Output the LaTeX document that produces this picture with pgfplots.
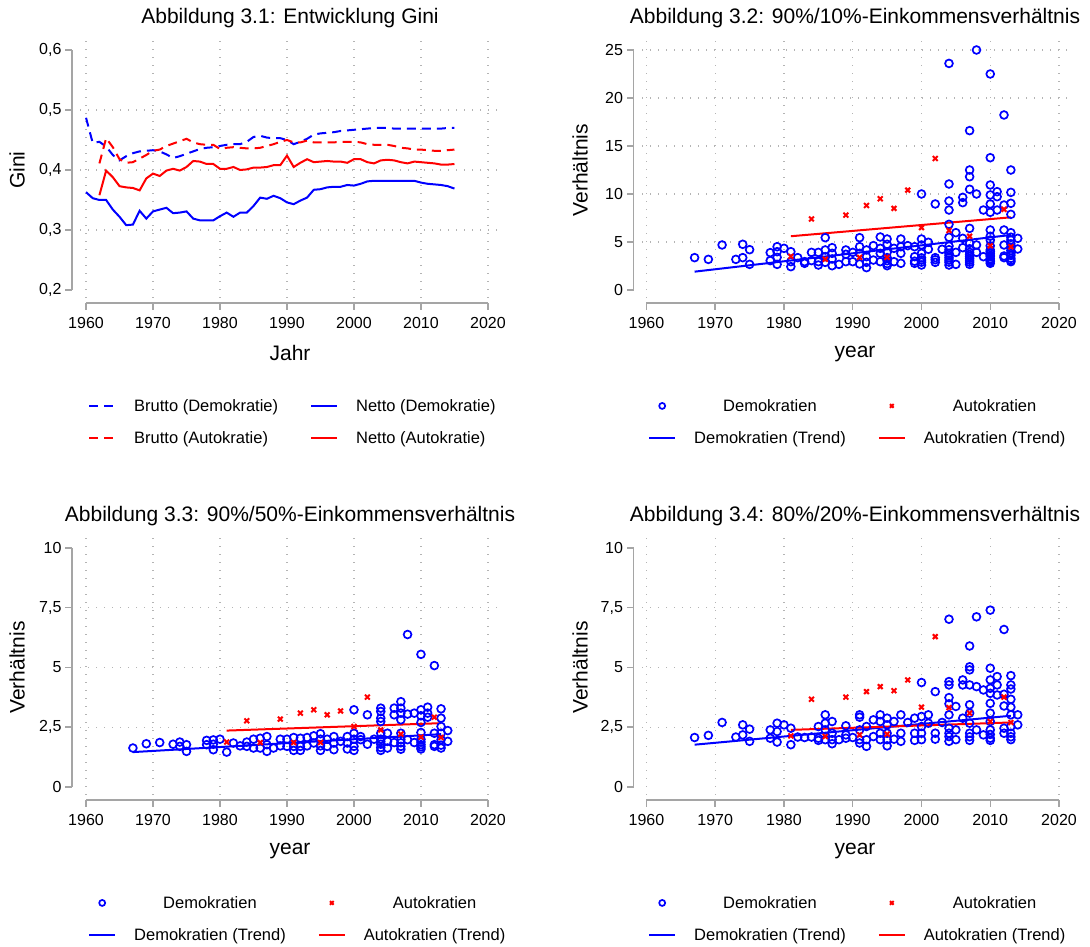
\documentclass[border=0pt]{standalone}
\usepackage{fontspec}
\setmainfont{Liberation Sans}
\usepackage{pgfplots}
\usepackage{pgfplotstable}
\pgfplotsset{compat=1.18}
\definecolor{grgray}{RGB}{180,180,180}
\definecolor{axgray}{RGB}{165,165,165}
\definecolor{sblue}{RGB}{0,0,255}
\definecolor{sred}{RGB}{255,0,0}
\newcommand\tickfont{\fontsize{16}{19}\selectfont}
\newcommand\titlefont{\fontsize{21}{25}\selectfont}
\newcommand\legfont{\fontsize{16.5}{20}\selectfont}

\pgfplotstableread{
year bd nd ba na
1960 0.487 0.363 nan nan
1961 0.445 0.353 nan nan
1962 0.447 0.350 0.411 0.358
1963 0.439 0.350 0.453 0.399
1964 0.425 0.334 0.438 0.388
1965 0.416 0.322 0.418 0.373
1966 0.423 0.308 0.412 0.371
1967 0.428 0.309 0.413 0.370
1968 0.431 0.332 0.419 0.366
1969 0.432 0.319 0.425 0.386
1970 0.433 0.331 0.432 0.394
1971 0.431 0.334 0.434 0.390
1972 0.426 0.337 0.440 0.399
1973 0.420 0.328 0.444 0.402
1974 0.423 0.329 0.448 0.399
1975 0.427 0.331 0.452 0.405
1976 0.431 0.319 0.446 0.415
1977 0.435 0.316 0.443 0.414
1978 0.437 0.316 0.442 0.410
1979 0.438 0.316 0.442 0.410
1980 0.440 0.323 0.435 0.402
1981 0.442 0.329 0.437 0.402
1982 0.443 0.322 0.438 0.405
1983 0.443 0.329 0.437 0.400
1984 0.447 0.329 0.436 0.401
1985 0.455 0.340 0.436 0.404
1986 0.457 0.354 0.437 0.404
1987 0.454 0.352 0.440 0.405
1988 0.453 0.357 0.443 0.408
1989 0.453 0.353 0.447 0.408
1990 0.450 0.346 0.450 0.424
1991 0.443 0.343 0.446 0.405
1992 0.447 0.349 0.446 0.412
1993 0.452 0.354 0.449 0.418
1994 0.459 0.367 0.446 0.413
1995 0.461 0.368 0.446 0.414
1996 0.462 0.371 0.446 0.415
1997 0.463 0.372 0.446 0.414
1998 0.465 0.372 0.447 0.414
1999 0.466 0.375 0.447 0.412
2000 0.467 0.374 0.447 0.418
2001 0.468 0.377 0.446 0.418
2002 0.469 0.381 0.443 0.413
2003 0.470 0.382 0.442 0.411
2004 0.470 0.382 0.442 0.416
2005 0.470 0.382 0.442 0.417
2006 0.469 0.382 0.440 0.416
2007 0.469 0.382 0.437 0.413
2008 0.469 0.382 0.436 0.411
2009 0.469 0.382 0.434 0.414
2010 0.469 0.379 0.434 0.413
2011 0.469 0.377 0.433 0.412
2012 0.469 0.376 0.432 0.411
2013 0.469 0.375 0.432 0.409
2014 0.470 0.373 0.433 0.409
2015 0.470 0.369 0.434 0.410
}\ginitab

\pgfplotstableread{
year v
1967 3.37
1969 3.19
1971 4.69
1973 3.19
1974 4.76
1974 3.37
1975 4.2
1975 2.67
1978 3.89
1978 3.06
1979 4.51
1979 3.99
1979 3.4
1979 2.67
1980 4.34
1981 3.99
1981 2.95
1981 2.43
1982 3.37
1983 2.95
1983 2.78
1984 3.92
1984 3.06
1985 3.92
1985 2.95
1985 2.6
1986 5.45
1986 4.17
1986 3.47
1986 2.88
1987 4.41
1987 3.82
1987 3.23
1987 2.53
1988 2.67
1989 4.17
1989 3.72
1989 2.95
1990 3.92
1990 2.95
1991 5.45
1991 4.51
1991 3.82
1991 2.71
1992 4.17
1992 3.47
1992 2.88
1992 2.33
1993 4.62
1993 3.12
1994 5.52
1994 4.34
1994 3.82
1994 2.95
1995 5.31
1995 4.76
1995 3.92
1995 3.37
1995 2.53
1995 2.75
1995 3.05
1996 4.34
1996 2.95
1997 5.31
1997 4.51
1997 3.82
1997 2.78
1998 4.62
1999 4.51
1999 3.47
1999 2.78
1999 3.0
2000 10.0
2000 5.31
2000 4.69
2000 3.82
2000 3.12
2000 2.6
2000 2.9
2000 3.35
2001 4.97
2001 4.24
2002 8.96
2002 3.37
2002 2.88
2002 3.15
2003 4.24
2004 23.6
2004 11.04
2004 9.27
2004 8.33
2004 6.84
2004 5.49
2004 4.58
2004 3.82
2004 3.12
2004 2.6
2004 2.9
2004 3.35
2004 3.6
2004 4.2
2005 5.97
2005 3.92
2005 2.67
2006 9.65
2006 9.1
2006 5.38
2006 4.41
2007 16.6
2007 12.5
2007 11.8
2007 10.49
2007 6.42
2007 4.86
2007 3.92
2007 3.3
2007 2.67
2007 2.9
2007 3.1
2007 3.5
2007 3.7
2007 4.3
2008 25.0
2008 10.0
2008 4.69
2008 3.92
2009 8.33
2009 3.47
2010 22.5
2010 13.78
2010 10.94
2010 9.9
2010 8.96
2010 8.09
2010 6.25
2010 5.21
2010 4.17
2010 3.47
2010 2.78
2010 2.95
2010 3.1
2010 3.25
2010 3.6
2010 3.8
2010 4.0
2010 4.6
2010 5.6
2011 10.24
2011 9.72
2011 8.33
2012 18.23
2012 8.85
2012 6.25
2012 4.69
2012 3.54
2012 3.37
2013 12.5
2013 10.17
2013 9.03
2013 7.88
2013 5.97
2013 5.21
2013 4.1
2013 2.95
2013 3.1
2013 3.3
2013 3.6
2013 3.8
2013 4.4
2013 4.8
2013 5.5
2014 5.38
2014 4.27
}\tabDemA

\pgfplotstableread{
year v
1981 3.5
1984 7.4
1986 3.2
1989 7.8
1991 3.4
1992 8.8
1994 9.5
1995 3.4
1996 8.5
1998 10.4
2000 6.5
2002 13.7
2004 6.2
2007 5.6
2010 4.6
2012 8.4
2013 4.5
}\tabAutA

\pgfplotstableread{
year v
1967 1.63
1969 1.81
1971 1.86
1973 1.79
1974 1.88
1974 1.7
1975 1.77
1975 1.49
1978 1.95
1978 1.77
1979 1.97
1979 1.79
1979 1.56
1980 2.0
1981 1.46
1982 1.84
1983 1.72
1984 1.88
1984 1.7
1985 2.0
1985 1.63
1986 2.04
1986 1.63
1987 2.11
1987 1.77
1987 1.49
1988 1.63
1989 2.0
1989 1.72
1990 2.0
1990 1.7
1991 2.07
1991 1.7
1991 1.53
1992 2.04
1992 1.7
1992 1.53
1993 2.07
1993 1.72
1994 2.14
1994 1.84
1995 2.23
1995 2.0
1995 1.72
1995 1.53
1996 2.0
1996 1.7
1997 2.11
1997 1.84
1997 1.56
1998 1.91
1999 2.11
1999 1.84
1999 1.59
2000 3.23
2000 2.25
2000 2.0
2000 1.7
2000 1.53
2001 2.11
2001 1.98
2002 3.02
2002 1.79
2003 2.0
2004 3.3
2004 3.16
2004 2.88
2004 2.74
2004 2.25
2004 2.0
2004 1.79
2004 1.53
2004 1.65
2004 1.9
2005 2.25
2005 1.91
2005 1.63
2006 3.3
2006 3.02
2006 1.86
2007 3.57
2007 3.3
2007 3.09
2007 2.81
2007 2.25
2007 1.98
2007 1.7
2007 1.58
2007 1.85
2008 6.38
2008 3.05
2008 1.98
2009 3.09
2009 1.86
2010 5.55
2010 3.23
2010 2.98
2010 2.7
2010 2.28
2010 2.0
2010 1.77
2010 1.59
2010 1.68
2010 1.88
2011 3.34
2011 3.09
2011 2.92
2012 5.08
2012 2.25
2012 1.77
2012 1.7
2013 3.27
2013 2.88
2013 2.53
2013 2.25
2013 1.98
2013 1.63
2013 1.75
2014 2.36
2014 1.91
}\tabDemB

\pgfplotstableread{
year v
1981 1.88
1984 2.77
1986 1.86
1989 2.84
1991 1.86
1992 3.09
1994 3.23
1995 1.86
1996 3.02
1998 3.18
2000 2.53
2002 3.76
2004 2.39
2007 2.21
2010 2.09
2012 2.92
2013 2.07
}\tabAutB

\pgfplotstableread{
year v
1967 2.07
1969 2.16
1971 2.7
1973 2.09
1974 2.6
1974 2.18
1975 2.42
1975 1.91
1978 2.39
1978 2.04
1979 2.67
1979 2.32
1979 1.88
1980 2.6
1981 2.46
1981 1.77
1982 2.09
1983 2.07
1984 2.09
1985 2.53
1985 2.04
1985 1.95
1986 3.02
1986 2.67
1986 2.39
1986 1.98
1987 2.74
1987 2.25
1987 1.98
1987 1.81
1988 1.98
1989 2.56
1989 2.18
1989 2.04
1990 2.07
1991 3.02
1991 2.92
1991 2.39
1991 1.98
1991 1.84
1992 2.53
1992 1.98
1992 1.7
1993 2.81
1993 2.11
1994 3.02
1994 2.74
1994 2.25
1994 1.98
1995 2.88
1995 2.6
1995 2.25
1995 1.98
1995 1.72
1996 2.74
1996 2.0
1997 3.02
1997 2.25
1997 1.91
1998 2.7
1999 2.88
1999 2.25
1999 1.95
2000 4.37
2000 2.95
2000 2.53
2000 2.25
2000 1.98
2001 3.02
2001 2.67
2002 3.99
2002 2.25
2002 2.0
2003 2.7
2004 7.02
2004 4.41
2004 4.27
2004 3.74
2004 3.48
2004 3.02
2004 2.46
2004 2.11
2004 1.91
2004 2.25
2005 3.37
2005 2.39
2005 1.98
2006 4.48
2006 4.27
2006 2.88
2007 5.9
2007 5.03
2007 4.9
2007 4.27
2007 3.44
2007 3.09
2007 2.67
2007 2.25
2007 1.95
2007 2.1
2008 7.12
2008 4.2
2008 2.39
2009 4.06
2009 2.18
2010 7.4
2010 4.97
2010 4.48
2010 4.13
2010 3.92
2010 3.5
2010 3.09
2010 2.74
2010 2.39
2010 2.04
2010 2.2
2010 1.95
2011 4.62
2011 4.27
2011 3.85
2012 6.59
2012 3.88
2012 3.39
2012 2.46
2012 2.25
2013 4.66
2013 4.27
2013 4.1
2013 3.67
2013 3.34
2013 3.02
2013 2.53
2013 2.25
2013 1.98
2013 2.1
2014 3.02
2014 2.6
}\tabDemC

\pgfplotstableread{
year v
1981 2.14
1984 3.67
1986 2.11
1989 3.76
1991 2.18
1992 3.99
1994 4.2
1995 2.21
1996 4.03
1998 4.48
2000 3.34
2002 6.29
2004 3.32
2007 3.09
2010 2.74
2012 3.76
2013 2.7
}\tabAutC

\pgfplotsset{
 stata/.style={
   scale only axis,
   axis x line*=bottom, axis y line*=left,
   axis line style={draw=none},
   tick style={draw=none},
   tick align=outside,
   major tick length=7pt,
   minor tick num=0,
   axis x line shift=5pt,
   xtick={1960,1970,1980,1990,2000,2010,2020},
   xticklabels={1960,1970,1980,1990,2000,2010,2020},
   xmajorgrids,
   grid style={draw=grgray, line width=1.3pt, dash pattern=on 1.3pt off 6.7pt},
   ticklabel style={font=\tickfont, text=black},
   xticklabel style={yshift=-4pt},
   xlabel style={font=\titlefont, yshift=-10pt},
   ylabel style={font=\titlefont, anchor=center},
   title style={font=\titlefont, anchor=center, at={(axis description cs:0.5,1)}, yshift=12.5pt},
   clip=false,
   legend columns=2,
   legend style={draw=none, fill=none, font=\legfont, inner sep=0pt, row sep=15pt,
      at={(axis description cs:0,0)}, anchor=north west, yshift=-99pt,
      /tikz/every odd column/.append style={column sep=16pt},
      /tikz/every even column/.append style={column sep=30pt}},
   legend image code/.code={\draw[mark repeat=2,mark phase=2,##1] plot coordinates {(0pt,0pt) (13pt,0pt) (26pt,0pt)};},
 },
 leftp/.style={width=420pt, xmin=1959.1, xmax=2021.8, axis y line shift=8pt,
   ylabel style={at={(axis description cs:0,0.49)}, yshift=63pt},
   legend style={xshift=8pt}},
 rightp/.style={width=426pt, xmin=1959.35, xmax=2021.31, axis y line shift=8.5pt,
   ylabel style={at={(axis description cs:0,0.49)}, yshift=62pt},
   legend style={xshift=6pt}, legend cell align=center},
 dem/.style={only marks, mark=o, mark size=3.9pt, sblue, mark options={line width=1.7pt},
   legend image post style={mark size=3pt}},
 aut/.style={only marks, mark=x, mark size=3.4pt, sred, mark options={line width=2pt},
   legend image post style={mark size=2.6pt}},
 trb/.style={sblue, line width=2pt, no marks},
 trr/.style={sred, line width=2pt, no marks},
 axl/.style={axgray, line width=1.5pt, no marks, forget plot},
 axtx/.style={axgray, only marks, mark=|, mark size=3.5pt, mark options={line width=1.5pt}, forget plot},
 axty/.style={axgray, only marks, mark=-, mark size=3.5pt, mark options={line width=1.5pt}, forget plot},
 ratio/.style={ymin=-0.335, ymax=10.544, height=260pt,
   ytick={0,2.5,5,7.5,10}, yticklabels={0,{2,5},5,{7,5},10},
   extra y ticks={2.5,5,7.5}, extra y tick labels={},
   extra y tick style={ymajorgrids=true, major tick length=0pt},
   xlabel={year}, ylabel={Verhältnis}},
}

\begin{document}
\begin{tikzpicture}
\path[use as bounding box] (0,0) rectangle (1090pt,947pt);

% Panel 1
\begin{axis}[stata, leftp, at={(80pt,649pt)}, anchor=south west,
  height=261pt, ymin=0.18667, ymax=0.62167,
  ytick={0.2,0.3,0.4,0.5,0.6}, yticklabels={{0,2},{0,3},{0,4},{0,5},{0,6}},
  extra y ticks={0.3,0.4,0.5}, extra y tick labels={},
  extra y tick style={ymajorgrids=true, major tick length=0pt},
  title={Abbildung 3.1: Entwicklung Gini}, xlabel={Jahr}, ylabel={Gini},
  unbounded coords=jump, legend cell align=left]
\addplot[axl] coordinates {(1960,0.17834) (2020,0.17834)};
\addplot[axl] coordinates {(1957.906,0.2) (1957.906,0.6)};
\addplot[axtx] coordinates {(1960,0.17251) (1970,0.17251) (1980,0.17251) (1990,0.17251) (2000,0.17251) (2010,0.17251) (2020,0.17251)};
\addplot[axty] coordinates {(1957.383,0.2) (1957.383,0.3) (1957.383,0.4) (1957.383,0.5) (1957.383,0.6)};
\addplot[sblue, line width=2pt, dash pattern=on 9pt off 6pt] table[x=year,y=bd] {\ginitab};
\addlegendentry{Brutto (Demokratie)}
\addplot[sblue, line width=2pt] table[x=year,y=nd] {\ginitab};
\addlegendentry{Netto (Demokratie)}
\addplot[sred, line width=2pt, dash pattern=on 9pt off 6pt] table[x=year,y=ba] {\ginitab};
\addlegendentry{Brutto (Autokratie)}
\addplot[sred, line width=2pt] table[x=year,y=na] {\ginitab};
\addlegendentry{Netto (Autokratie)}
\end{axis}

% Panel 2
\begin{axis}[stata, rightp, at={(642pt,649pt)}, anchor=south west,
  height=261pt, ymin=-0.833, ymax=26.354,
  ytick={0,5,10,15,20,25}, yticklabels={0,5,10,15,20,25},
  extra y ticks={5,10,15,20,25}, extra y tick labels={},
  extra y tick style={ymajorgrids=true, major tick length=0pt},
  title={Abbildung 3.2: 90\%/10\%-Einkommensverhältnis}, xlabel={year}, ylabel={Verhältnis}]
\addplot[axl] coordinates {(1960,-1.3538) (2020,-1.3538)};
\addplot[axl] coordinates {(1958.114,0) (1958.114,25)};
\addplot[axtx] coordinates {(1960,-1.7184) (1970,-1.7184) (1980,-1.7184) (1990,-1.7184) (2000,-1.7184) (2010,-1.7184) (2020,-1.7184)};
\addplot[axty] coordinates {(1957.605,0) (1957.605,5) (1957.605,10) (1957.605,15) (1957.605,20) (1957.605,25)};
\addplot[dem] table[x=year,y=v] {\tabDemA};
\addlegendentry{Demokratien}
\addplot[aut] table[x=year,y=v] {\tabAutA};
\addlegendentry{Autokratien}
\addplot[trb] coordinates {(1967,1.91) (2013,5.73)};
\addlegendentry{Demokratien (Trend)}
\addplot[trr] coordinates {(1981,5.6) (2013,7.57)};
\addlegendentry{Autokratien (Trend)}
\end{axis}

% Panel 3
\begin{axis}[stata, leftp, ratio, at={(80pt,152pt)}, anchor=south west,
  title={Abbildung 3.3: 90\%/50\%-Einkommensverhältnis}, legend cell align=center]
\addplot[axl] coordinates {(1960,-0.5442) (2020,-0.5442)};
\addplot[axl] coordinates {(1957.906,0) (1957.906,10)};
\addplot[axtx] coordinates {(1960,-0.6907) (1970,-0.6907) (1980,-0.6907) (1990,-0.6907) (2000,-0.6907) (2010,-0.6907) (2020,-0.6907)};
\addplot[axty] coordinates {(1957.383,0) (1957.383,2.5) (1957.383,5) (1957.383,7.5) (1957.383,10)};
\addplot[dem] table[x=year,y=v] {\tabDemB};
\addlegendentry{Demokratien}
\addplot[aut] table[x=year,y=v] {\tabAutB};
\addlegendentry{Autokratien}
\addplot[trb] coordinates {(1967,1.46) (2013,2.21)};
\addlegendentry{Demokratien (Trend)}
\addplot[trr] coordinates {(1981,2.36) (2013,2.67)};
\addlegendentry{Autokratien (Trend)}
\end{axis}

% Panel 4
\begin{axis}[stata, rightp, ratio, at={(642pt,152pt)}, anchor=south west,
  title={Abbildung 3.4: 80\%/20\%-Einkommensverhältnis}]
\addplot[axl] coordinates {(1960,-0.5442) (2020,-0.5442)};
\addplot[axl] coordinates {(1958.114,0) (1958.114,10)};
\addplot[axtx] coordinates {(1960,-0.6907) (1970,-0.6907) (1980,-0.6907) (1990,-0.6907) (2000,-0.6907) (2010,-0.6907) (2020,-0.6907)};
\addplot[axty] coordinates {(1957.605,0) (1957.605,2.5) (1957.605,5) (1957.605,7.5) (1957.605,10)};
\addplot[dem] table[x=year,y=v] {\tabDemC};
\addlegendentry{Demokratien}
\addplot[aut] table[x=year,y=v] {\tabAutC};
\addlegendentry{Autokratien}
\addplot[trb] coordinates {(1967,1.77) (2013,2.98)};
\addlegendentry{Demokratien (Trend)}
\addplot[trr] coordinates {(1981,2.39) (2013,2.70)};
\addlegendentry{Autokratien (Trend)}
\end{axis}
\end{tikzpicture}
\end{document}
